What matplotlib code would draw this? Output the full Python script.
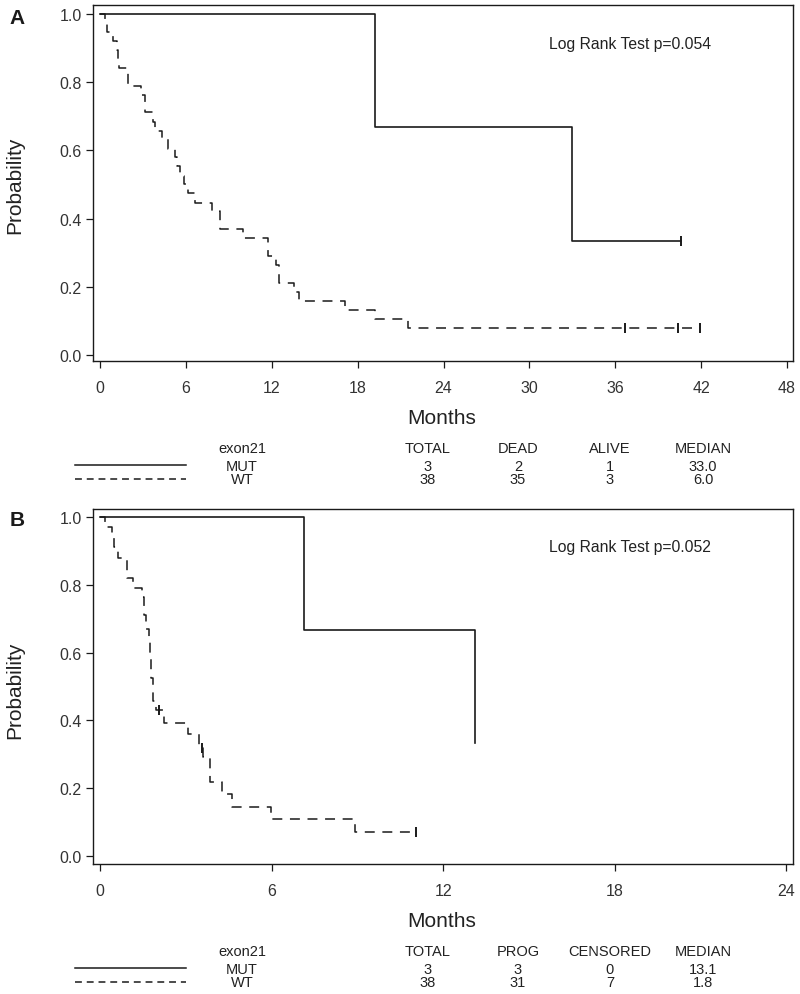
import matplotlib
matplotlib.use("Agg")
import matplotlib.pyplot as plt
import matplotlib.font_manager as fm
from matplotlib.lines import Line2D

plt.rcParams['font.family'] = ['Liberation Sans', 'DejaVu Sans']
try:
    fm.findfont('Liberation Sans Narrow', fallback_to_default=False)
    narrow = 'Liberation Sans Narrow'
    tsize = 11.5
except ValueError:
    narrow = 'Liberation Sans'
    tsize = 10.5

# ---- panel A: overall survival ----
mut_a_t = [0, 19.2, 33.0, 40.6]
mut_a_s = [1.0, 0.667, 0.333, 0.333]
mut_a_cens_t = [40.6]
mut_a_cens_s = [0.333]

wt_a_t = [0, 0.35, 0.47, 0.93, 1.16, 1.28, 1.35, 1.97, 2.84, 3.15, 3.73, 3.85,
          4.31, 4.78, 5.25, 5.40, 5.60, 5.85, 6.13, 6.64, 7.80, 8.40, 10.0,
          11.77, 12.28, 12.5, 13.57, 13.92, 17.13, 19.23, 21.5, 41.9]
wt_a_s = [1.0, 0.974, 0.947, 0.921, 0.895, 0.868, 0.842, 0.789, 0.763, 0.711,
          0.684, 0.658, 0.632, 0.605, 0.579, 0.553, 0.526, 0.500, 0.474, 0.447,
          0.421, 0.368, 0.342, 0.289, 0.263, 0.211, 0.184, 0.158, 0.132, 0.105,
          0.079, 0.079]
wt_a_cens_t = [36.7, 40.4, 41.9]
wt_a_cens_s = [0.079, 0.079, 0.079]

# ---- panel B: progression-free survival ----
mut_b_t = [0, 7.13, 13.1]
mut_b_s = [1.0, 0.667, 0.333]

wt_b_t = [0, 0.17, 0.41, 0.49, 0.64, 0.95, 1.17, 1.46, 1.54, 1.61, 1.70, 1.76,
          1.80, 1.86, 1.95, 2.24, 3.07, 3.46, 3.61, 3.85, 4.28, 4.60, 5.98,
          8.92, 11.04]
wt_b_s = [1.0, 0.970, 0.945, 0.911, 0.879, 0.820, 0.790, 0.763, 0.711, 0.670,
          0.632, 0.600, 0.526, 0.458, 0.430, 0.393, 0.360, 0.320, 0.291, 0.219,
          0.183, 0.145, 0.109, 0.072, 0.072]
wt_b_cens_t = [2.07, 3.55, 11.04]
wt_b_cens_s = [0.430, 0.320, 0.072]

# ---- summary tables ----
groups = ['MUT', 'WT']
cols_a = ['TOTAL', 'DEAD', 'ALIVE', 'MEDIAN']
vals_a = [['3', '2', '1', '33.0'], ['38', '35', '3', '6.0']]
cols_b = ['TOTAL', 'PROG', 'CENSORED', 'MEDIAN']
vals_b = [['3', '3', '0', '13.1'], ['38', '31', '7', '1.8']]

W, H = 800, 995
ink = '#1a1a1a'
dash = (0, (6.5, 5.0))


def fx(x):
    return x / W


def fy(y):
    return 1 - y / H


def panel(top, bottom, xlim, ylim, xticks):
    ax = fig.add_axes([fx(93), fy(bottom), fx(700), (bottom - top) / H])
    ax.set_xlim(*xlim)
    ax.set_ylim(*ylim)
    ax.set_xticks(xticks)
    ax.set_yticks([0, 0.2, 0.4, 0.6, 0.8, 1.0])
    ax.set_yticklabels(['0.0', '0.2', '0.4', '0.6', '0.8', '1.0'])
    ax.tick_params(direction='out', length=5, width=0.9, colors=ink,
                   labelsize=11.5, labelcolor='#333333')
    ax.tick_params(axis='x', pad=9)
    ax.tick_params(axis='y', pad=3)
    for s in ax.spines.values():
        s.set_color(ink)
        s.set_linewidth(1.0)
    return ax


def table(y_head, cols, vals):
    fig.text(fx(242), fy(y_head), 'exon21', ha='center', va='center',
             fontsize=tsize, family=narrow, color='#222222')
    xs = [428, 518, 610, 703]
    for x, c in zip(xs, cols):
        fig.text(fx(x), fy(y_head), c, ha='center', va='center',
                 fontsize=tsize, family=narrow, color='#222222')
    for r, (g, row) in enumerate(zip(groups, vals)):
        yy = y_head + 18 + r * 13.5
        fig.text(fx(242), fy(yy), g, ha='center', va='center',
                 fontsize=tsize, family=narrow, color='#222222')
        for x, v in zip(xs, row):
            fig.text(fx(x), fy(yy), v, ha='center', va='center',
                     fontsize=tsize, family=narrow, color='#222222')
        ls = '-' if g == 'MUT' else (0, (4.5, 3.2))
        fig.add_artist(Line2D([fx(75), fx(186)], [fy(yy - 1), fy(yy - 1)],
                              transform=fig.transFigure, color=ink,
                              linewidth=1.1, linestyle=ls))


fig = plt.figure(figsize=(W / 100, H / 100), dpi=100)

# Panel A
ax = panel(6, 362, (-0.49, 48.42), (-0.0176, 1.026), range(0, 49, 6))
ax.step(mut_a_t, mut_a_s, where='post', color=ink, linewidth=1.2)
ax.step(wt_a_t, wt_a_s, where='post', color=ink, linewidth=1.1, linestyle=dash)
ax.plot(mut_a_cens_t, mut_a_cens_s, '|', color=ink, markersize=7, mew=1.4)
ax.plot(wt_a_cens_t, wt_a_cens_s, '|', color=ink, markersize=7, mew=1.4)
ax.text(0.651, 0.893, 'Log Rank Test p=0.054', transform=ax.transAxes,
        fontsize=11.3, color='#222222', va='center')
fig.text(fx(17), fy(19), 'A', fontsize=15, fontweight='bold', ha='center',
         va='center', color=ink)
fig.text(fx(15), fy(185), 'Probability', rotation=90, fontsize=15,
         ha='center', va='center', color='#222222')
fig.text(fx(442), fy(419), 'Months', fontsize=15, ha='center', va='center',
         color='#222222')
table(449, cols_a, vals_a)

# Panel B
ax = panel(510, 865, (-0.245, 24.23), (-0.0236, 1.0236), range(0, 25, 6))
ax.step(mut_b_t, mut_b_s, where='post', color=ink, linewidth=1.2)
ax.step(wt_b_t, wt_b_s, where='post', color=ink, linewidth=1.1, linestyle=dash)
ax.plot(wt_b_cens_t, wt_b_cens_s, '|', color=ink, markersize=7, mew=1.4)
ax.text(0.651, 0.893, 'Log Rank Test p=0.052', transform=ax.transAxes,
        fontsize=11.3, color='#222222', va='center')
fig.text(fx(17), fy(520), 'B', fontsize=15, fontweight='bold', ha='center',
         va='center', color=ink)
fig.text(fx(15), fy(690), 'Probability', rotation=90, fontsize=15,
         ha='center', va='center', color='#222222')
fig.text(fx(442), fy(922), 'Months', fontsize=15, ha='center', va='center',
         color='#222222')
table(952, cols_b, vals_b)

fig.savefig('out.png', dpi=100)
